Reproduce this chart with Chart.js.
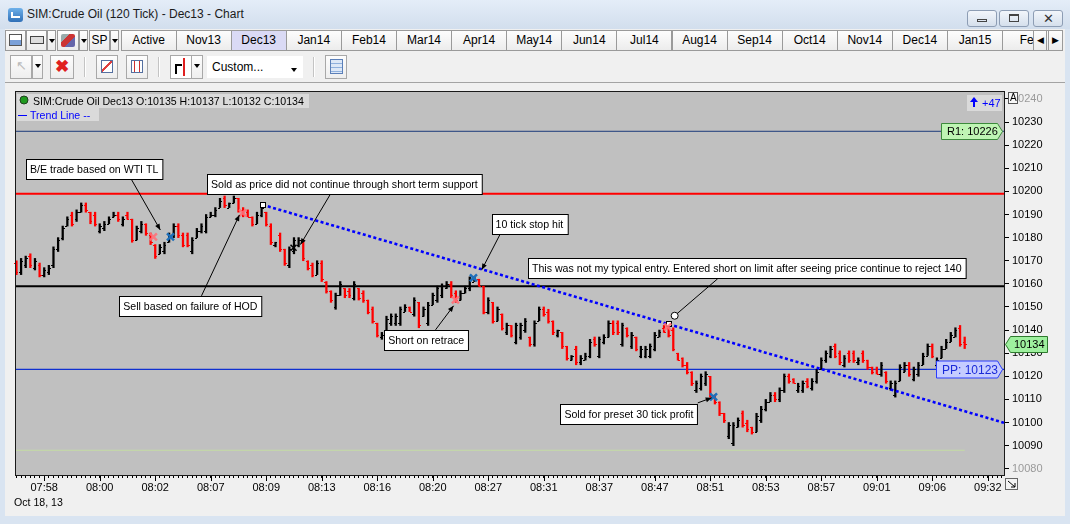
<!DOCTYPE html>
<html>
<head>
<meta charset="utf-8">
<script src="https://cdn.jsdelivr.net/npm/chart.js@4.4.0/dist/chart.umd.min.js"></script>
<style>
body{margin:0;width:1070px;height:524px;overflow:hidden;position:relative;background:#d9e4f1;font-family:"Liberation Sans",Arial,sans-serif}
.abs{position:absolute;box-sizing:border-box}
.title{left:0;top:0;width:1070px;height:29px;background:linear-gradient(#e4edf8,#d2deed)}
.ttext{left:27px;top:7px;font-size:12px;color:#1b1b1b}
.wbtn{top:10px;height:17px;border:1px solid #8d9db4;border-radius:3px;background:linear-gradient(#f2f6fb,#d5dfec)}
.bar{left:5px;top:29px;width:1060px;height:54px;background:#f0f0f0}
.btn{top:30px;height:21px;border:1px solid #9a9a9a;background:linear-gradient(#fdfdfd,#ececec);font-size:12px;line-height:19px;text-align:center;color:#000}
.dd:after{content:"";position:absolute;left:50%;top:8px;margin-left:-3px;border:3px solid transparent;border-top:4px solid #000}
.tb{top:55px;height:24px;border:1px solid #a8a8a8;background:linear-gradient(#fdfdfd,#eeeeee)}
.sep{top:57px;width:2px;height:20px;background:#c4c4c4;border-right:1px solid #fff}
.client{left:5px;top:82px;width:1060px;height:434px;background:#f0f0f0;border-top:1px solid #a3a3a3}
#wrap{left:6px;top:83px;width:1058px;height:432px}
</style>
</head>
<body>
<div class="abs title"></div>
<div class="abs" style="left:8px;top:8px;width:15px;height:14px;border-radius:3px;background:linear-gradient(#6fb1ea,#2f6fb7)"></div>
<div class="abs" style="left:11px;top:12px;width:9px;height:6px;border-left:2px solid #fff;border-bottom:2px solid #fff"></div>
<div class="abs ttext">SIM:Crude Oil (120 Tick) - Dec13 - Chart</div>
<div class="abs wbtn" style="left:967px;width:30px"><div class="abs" style="left:9px;top:8px;width:10px;height:3px;border:1px solid #444"></div></div>
<div class="abs wbtn" style="left:999px;width:30px"><div class="abs" style="left:9px;top:3px;width:10px;height:8px;border:1px solid #444;border-top-width:2px"></div></div>
<div class="abs wbtn" style="left:1033px;width:30px;text-align:center;font-size:13px;line-height:15px;color:#333">&#10005;</div>

<div class="abs bar"></div>
<div id="tabs"></div>

<div class="abs tb" style="left:10px;width:22px;color:#bbb;font-size:13px;text-align:center;line-height:20px">&#8598;</div>
<div class="abs tb dd" style="left:32px;width:11px"></div>
<div class="abs tb" style="left:50px;width:24px;color:#e02020;font-size:17px;font-weight:bold;text-align:center;line-height:21px">&#10006;</div>
<div class="abs sep" style="left:84px"></div>
<div class="abs tb" style="left:96px;width:22px"><div class="abs" style="left:4px;top:4px;width:12px;height:13px;border:1px solid #5570a0;background:linear-gradient(135deg,#fff 40%,#e04040 40%,#e04040 55%,#fff 55%)"></div></div>
<div class="abs tb" style="left:126px;width:22px"><div class="abs" style="left:4px;top:4px;width:12px;height:13px;border:1px solid #5570a0;background:repeating-linear-gradient(90deg,#fff 0 2px,#d03030 2px 3px,#fff 3px 5px)"></div></div>
<div class="abs sep" style="left:158px"></div>
<div class="abs tb" style="left:170px;width:22px;background:#fff"><div class="abs" style="left:4px;top:8px;width:7px;height:10px;border-left:2px solid #000;border-top:2px solid #000"></div><div class="abs" style="left:12px;top:2px;width:2px;height:18px;background:#e02020"></div></div>
<div class="abs tb dd" style="left:191px;width:12px"></div>
<div class="abs" style="left:207px;top:56px;width:96px;height:22px;background:#fff;font-size:12px;line-height:22px;padding-left:5px">Custom...</div>
<div class="abs dd" style="left:288px;top:60px;width:12px;height:14px"></div>
<div class="abs sep" style="left:313px"></div>
<div class="abs tb" style="left:325px;width:22px"><div class="abs" style="left:4px;top:3px;width:13px;height:15px;border:1px solid #5b7fb8;background:repeating-linear-gradient(#dde8f7 0 3px,#8fb0dd 3px 4px)"></div></div>

<div class="abs client"></div>
<div class="abs" id="wrap"><canvas id="c" width="1058" height="432" style="width:1058px;height:432px"></canvas></div>

<script>
// contract tabs across the top
var tabNames = ["Active","Nov13","Dec13","Jan14","Feb14","Mar14","Apr14","May14","Jun14","Jul14","Aug14","Sep14","Oct14","Nov14","Dec14","Jan15","Feb"];
var tabsHtml = '';
tabsHtml += '<div class="abs btn" style="left:5px;width:21px"><div class="abs" style="left:3px;top:3px;width:13px;height:12px;border:1px solid #555;background:linear-gradient(#fff 50%,#7aa0d8 50%)"></div></div>';
tabsHtml += '<div class="abs btn" style="left:26px;width:21px"><div class="abs" style="left:3px;top:5px;width:14px;height:8px;border:1px solid #444;background:#ddd"></div></div>';
tabsHtml += '<div class="abs btn dd" style="left:47px;width:9px"></div>';
tabsHtml += '<div class="abs btn" style="left:57px;width:22px"><div class="abs" style="left:3px;top:3px;width:14px;height:13px;border-radius:2px;background:linear-gradient(135deg,#9aa 30%,#c33 30%,#c33 60%,#66a 60%)"></div></div>';
tabsHtml += '<div class="abs btn dd" style="left:79px;width:9px"></div>';
tabsHtml += '<div class="abs btn" style="left:89px;width:21px">SP</div>';
tabsHtml += '<div class="abs btn dd" style="left:110px;width:9px"></div>';
tabNames.forEach(function (t, i) {
    var bg = t === "Dec13" ? "background:#dadaf5;" : "";
    tabsHtml += '<div class="abs btn" style="left:' + (120.5 + i * 55.1).toFixed(1) + 'px;width:56px;' + bg + '">' + t + '</div>';
});
tabsHtml += '<div class="abs btn" style="left:1033px;width:14px;font-size:9px">&#9664;</div>';
tabsHtml += '<div class="abs btn" style="left:1048px;width:15px;font-size:9px">&#9654;</div>';
document.getElementById("tabs").innerHTML = tabsHtml;

/* DATA */
var timeLabels = ["07:58","08:00","08:02","08:07","08:09","08:13","08:16","08:20","08:27","08:31","08:37","08:47","08:51","08:53","08:57","09:01","09:06","09:32"];
var labelFirstBar = 6, barsPerLabel = 12;
var yTicks = [10240,10230,10220,10210,10200,10190,10180,10170,10160,10150,10140,10130,10120,10110,10100,10090,10080];

var highs = [
10170,10171,10172,10173,10171,10169,10167,10168,10176,10180,
10185,10189,10191,10192,10195,10195,10191,10191,10186,10187,
10189,10191,10191,10189,10191,10188,10185,10187,10186,10182,
10177,10177,10178,10182,10186,10186,10182,10182,10180,10184,
10186,10190,10191,10193,10197,10198,10195,10198,10197,10193,
10192,10189,10191,10194,10191,10186,10178,10182,10175,10176,
10180,10180,10179,10170,10169,10170,10170,10161,10157,10156,
10161,10158,10158,10161,10158,10157,10153,10150,10143,10139,
10146,10147,10147,10150,10151,10150,10154,10152,10150,10152,
10156,10159,10160,10161,10161,10157,10157,10159,10163,10163,
10162,10159,10154,10152,10150,10147,10143,10142,10143,10143,
10145,10137,10144,10150,10150,10149,10144,10140,10139,10133,
10129,10133,10129,10130,10136,10137,10137,10138,10144,10144,
10144,10143,10141,10139,10137,10133,10133,10134,10139,10140,
10142,10142,10141,10130,10128,10126,10122,10118,10121,10122,
10120,10112,10109,10104,10100,10100,10102,10105,10101,10098,
10104,10107,10110,10113,10113,10115,10121,10121,10119,10117,
10118,10119,10119,10123,10128,10131,10133,10134,10131,10129,
10131,10131,10128,10131,10127,10124,10124,10126,10122,10118,
10118,10125,10126,10126,10124,10126,10130,10134,10134,10128,
10133,10136,10139,10141,10142,10137];
var lows = [
10164,10164,10167,10167,10166,10163,10163,10164,10167,10174,
10179,10185,10185,10187,10191,10191,10186,10185,10182,10183,
10186,10189,10187,10185,10188,10178,10179,10182,10181,10177,
10171,10173,10173,10178,10180,10180,10176,10176,10173,10180,
10182,10182,10189,10189,10193,10193,10193,10195,10191,10189,
10189,10185,10186,10189,10185,10177,10176,10174,10168,10167,
10173,10176,10170,10166,10163,10164,10161,10156,10152,10149,
10155,10154,10154,10153,10153,10152,10147,10143,10137,10136,
10138,10142,10142,10142,10148,10148,10146,10141,10146,10142,
10151,10152,10154,10158,10154,10152,10153,10156,10157,10161,
10159,10147,10147,10143,10144,10140,10138,10137,10134,10136,
10139,10133,10133,10144,10146,10143,10138,10137,10132,10127,
10127,10125,10125,10127,10128,10133,10128,10134,10137,10138,
10138,10133,10137,10132,10131,10128,10128,10128,10131,10137,
10139,10137,10131,10127,10124,10121,10116,10113,10114,10116,
10111,10108,10103,10100,10093,10090,10098,10098,10096,10095,
10096,10100,10105,10109,10109,10109,10113,10117,10117,10113,
10113,10115,10114,10117,10123,10126,10128,10128,10125,10124,
10126,10126,10125,10126,10123,10121,10121,10120,10117,10114,
10111,10118,10122,10120,10118,10120,10125,10129,10128,10124,
10128,10132,10135,10137,10133,10132];
var opens = [
10169,10165,10168,10172,10167,10168,10164,10165,10168,10175,
10180,10185,10190,10188,10191,10194,10191,10190,10183,10184,
10186,10189,10190,10186,10190,10188,10179,10183,10186,10181,
10177,10173,10174,10178,10181,10185,10181,10181,10174,10180,
10183,10183,10189,10190,10193,10197,10193,10195,10197,10192,
10191,10189,10186,10190,10191,10185,10177,10181,10175,10168,
10174,10177,10179,10170,10168,10164,10169,10161,10157,10150,
10155,10158,10157,10154,10158,10156,10153,10149,10143,10137,
10139,10143,10143,10143,10148,10150,10147,10152,10146,10143,
10151,10153,10155,10158,10160,10156,10153,10156,10158,10161,
10162,10159,10148,10152,10144,10147,10139,10142,10135,10137,
10140,10137,10134,10144,10149,10148,10144,10138,10139,10133,
10127,10132,10126,10127,10129,10136,10129,10135,10137,10143,
10143,10134,10141,10133,10137,10129,10129,10129,10132,10137,
10141,10141,10140,10130,10128,10125,10122,10114,10115,10117,
10120,10112,10109,10104,10094,10091,10098,10104,10100,10098,
10096,10101,10106,10109,10112,10110,10114,10120,10119,10114,
10114,10118,10115,10118,10123,10127,10129,10133,10130,10125,
10130,10130,10126,10130,10127,10124,10123,10121,10122,10115,
10112,10118,10122,10125,10119,10121,10125,10129,10133,10125,
10128,10132,10135,10137,10141,10135];
var closes = [
10165,10170,10171,10168,10170,10164,10166,10167,10175,10179,
10184,10188,10186,10191,10194,10192,10187,10186,10185,10186,
10188,10190,10188,10188,10188,10179,10184,10186,10182,10178,
10172,10176,10177,10181,10185,10181,10177,10177,10179,10183,
10185,10189,10190,10192,10196,10194,10195,10197,10192,10190,
10189,10186,10190,10193,10186,10178,10178,10175,10169,10175,
10179,10179,10171,10167,10164,10169,10162,10157,10153,10155,
10160,10155,10155,10160,10154,10153,10148,10144,10138,10138,
10145,10146,10146,10149,10150,10148,10153,10142,10149,10151,
10155,10158,10159,10160,10155,10153,10156,10158,10162,10162,
10159,10148,10153,10144,10149,10141,10142,10138,10142,10142,
10144,10134,10143,10149,10147,10144,10139,10140,10133,10128,
10129,10126,10128,10129,10135,10134,10136,10137,10143,10139,
10139,10142,10138,10138,10132,10132,10132,10133,10138,10139,
10139,10138,10132,10127,10125,10122,10117,10117,10120,10121,
10112,10109,10104,10101,10099,10099,10101,10099,10097,10096,
10103,10106,10109,10112,10110,10114,10120,10118,10117,10116,
10117,10116,10118,10122,10127,10130,10132,10129,10126,10128,
10127,10127,10127,10127,10124,10122,10121,10125,10118,10117,
10117,10124,10125,10121,10123,10125,10129,10133,10129,10127,
10132,10135,10138,10140,10134,10134];

// drawn price levels
var r1Level = 10226, ppLevel = 10123, hodLevel = 10199, supportLevel = 10159, s1Level = 10088;
// trend line end points: [bar, price]
var trendStart = [53.2, 10194.2], trendEnd = [213.5, 10099.9];

// trade notes: box centre, arrow start, arrow end as [bar, price]
var notes = [
    {text: "B/E trade based on WTI TL", box: [16.8, 10209.7], from: [24.9, 10205.0], to: [31.1, 10183.3], head: true},
    {text: "Sold as price did not continue through short term support", box: [70.9, 10203.2], from: [67.9, 10198.9], to: [61.4, 10177.0], head: true},
    {text: "10 tick stop hit", box: [110.9, 10185.9], from: [104.6, 10181.6], to: [100.6, 10166.1], head: true},
    {text: "This was not my typical entry. Entered short on limit after seeing price continue to reject 140", box: [157.9, 10166.7], from: [151.6, 10162.2], to: [142.3, 10146.2], head: false},
    {text: "Sell based on failure of HOD", box: [37.6, 10150.3], from: [40.0, 10154.8], to: [48.2, 10189.8], head: true},
    {text: "Short on retrace", box: [88.6, 10135.8], from: [90.6, 10140.1], to: [94.5, 10150.5], head: true},
    {text: "Sold for preset 30 tick profit", box: [132.4, 10103.6], from: [147.3, 10108.5], to: [150.3, 10110.7], head: true}
];
// executions: [bar, price, kind]
var fills = [
    [29.6, 10180.3, "entry"], [33.3, 10180.3, "exit"], [48.9, 10190.7, "entry"], [59.9, 10175.6, "stop"],
    [94.9, 10153.1, "entry"], [98.8, 10162.6, "exit"], [140.8, 10141.4, "entry"], [150.7, 10111.1, "exit"]
];
var anchors = [[53.2, 10194.2], [141.0, 10142.7]];

var barIdx = highs.map(function (h, i) { return i; });
var barColors = barIdx.map(function (i) { return closes[i] < opens[i] ? "#ff0000" : "#000000"; });
var xMin = -0.1, xMax = 213.5;

function hline(v, color, w) {
    return {type: "line", data: [{x: xMin, y: v}, {x: xMax, y: v}], borderColor: color, borderWidth: w, pointRadius: 0, order: 5};
}

var ohlcTicks = {
    id: "ohlcTicks",
    afterDatasetDraw: function (chart, args) {
        if (args.index !== 0) return;
        var ctx = chart.ctx, ys = chart.scales.y;
        ctx.save();
        ctx.lineWidth = 1;
        args.meta.data.forEach(function (el, i) {
            var x = Math.round(el.x);
            var yo = Math.round(ys.getPixelForValue(opens[i])) + 0.5;
            var yc = Math.round(ys.getPixelForValue(closes[i])) + 0.5;
            ctx.strokeStyle = barColors[i];
            ctx.beginPath();
            ctx.moveTo(x - 2, yo); ctx.lineTo(x, yo);
            ctx.moveTo(x, yc); ctx.lineTo(x + 2, yc);
            ctx.stroke();
        });
        ctx.restore();
    }
};

function pt(chart, p) {
    return [chart.scales.x.getPixelForValue(p[0]), chart.scales.y.getPixelForValue(p[1])];
}

function arrowHead(ctx, x1, y1, x2, y2) {
    var a = Math.atan2(y2 - y1, x2 - x1), L = 6, W = 2.5;
    ctx.beginPath();
    ctx.moveTo(x2, y2);
    ctx.lineTo(x2 - L * Math.cos(a) + W * Math.sin(a), y2 - L * Math.sin(a) - W * Math.cos(a));
    ctx.lineTo(x2 - L * Math.cos(a) - W * Math.sin(a), y2 - L * Math.sin(a) + W * Math.cos(a));
    ctx.closePath();
    ctx.fill();
}

function tag(ctx, x0, x1, yc, h, tipRight, fill, stroke) {
    ctx.beginPath();
    if (tipRight) {
        ctx.moveTo(x0, yc - h / 2); ctx.lineTo(x1, yc - h / 2); ctx.lineTo(x1 + 5, yc);
        ctx.lineTo(x1, yc + h / 2); ctx.lineTo(x0, yc + h / 2);
    } else {
        ctx.moveTo(x1, yc - h / 2); ctx.lineTo(x0, yc - h / 2); ctx.lineTo(x0 - 5, yc);
        ctx.lineTo(x0, yc + h / 2); ctx.lineTo(x1, yc + h / 2);
    }
    ctx.closePath();
    ctx.fillStyle = fill; ctx.fill();
    ctx.strokeStyle = stroke; ctx.lineWidth = 1; ctx.stroke();
}

var decorations = {
    id: "decorations",
    beforeDraw: function (chart) {
        var a = chart.chartArea, ctx = chart.ctx;
        ctx.save();
        ctx.fillStyle = "#c0c0c0";
        ctx.fillRect(a.left, a.top, a.right - a.left, a.bottom - a.top);
        ctx.restore();
    },
    afterDraw: function (chart) {
        var a = chart.chartArea, ctx = chart.ctx, xs = chart.scales.x, ys = chart.scales.y;
        ctx.save();
        ctx.beginPath();
        ctx.rect(a.left, a.top, a.right - a.left, a.bottom - a.top);
        ctx.clip();

        // white anchor squares on the trend line
        anchors.forEach(function (p) {
            var q = pt(chart, p);
            ctx.fillStyle = "#fff"; ctx.strokeStyle = "#000"; ctx.lineWidth = 1;
            ctx.fillRect(Math.round(q[0]) - 3, Math.round(q[1]) - 3, 6, 6);
            ctx.strokeRect(Math.round(q[0]) - 2.5, Math.round(q[1]) - 2.5, 5, 5);
        });

        // execution marks
        fills.forEach(function (f) {
            var q = pt(chart, f), s = 3.5;
            ctx.lineWidth = 2.5;
            ctx.strokeStyle = f[2] === "entry" ? "rgba(255,112,120,0.9)" : f[2] === "exit" ? "#1d6fba" : "#000";
            if (f[2] === "stop") { ctx.lineWidth = 1.5; s = 3; }
            ctx.beginPath();
            ctx.moveTo(q[0] - s, q[1] - s); ctx.lineTo(q[0] + s, q[1] + s);
            ctx.moveTo(q[0] + s, q[1] - s); ctx.lineTo(q[0] - s, q[1] + s);
            ctx.stroke();
        });

        // note arrows then boxes
        ctx.strokeStyle = "#000"; ctx.fillStyle = "#000"; ctx.lineWidth = 1;
        notes.forEach(function (n) {
            var p1 = pt(chart, n.from), p2 = pt(chart, n.to);
            ctx.beginPath(); ctx.moveTo(p1[0], p1[1]); ctx.lineTo(p2[0], p2[1]); ctx.stroke();
            if (n.head) {
                arrowHead(ctx, p1[0], p1[1], p2[0], p2[1]);
            } else {
                ctx.beginPath(); ctx.arc(p2[0], p2[1], 3.5, 0, Math.PI * 2);
                ctx.fillStyle = "#fff"; ctx.fill(); ctx.stroke(); ctx.fillStyle = "#000";
            }
        });
        ctx.font = '10.6px "Liberation Sans", Arial, sans-serif';
        ctx.textBaseline = "middle"; ctx.textAlign = "center";
        notes.forEach(function (n) {
            var c = pt(chart, n.box), w = ctx.measureText(n.text).width + 8;
            var bx = Math.round(c[0] - w / 2) + 0.5, by = Math.round(c[1] - 10) + 0.5;
            ctx.fillStyle = "#fff"; ctx.fillRect(bx, by, w, 20);
            ctx.strokeStyle = "#000"; ctx.strokeRect(bx, by, w, 20);
            ctx.fillStyle = "#000"; ctx.fillText(n.text, c[0], by + 10.5);
        });

        // header text
        ctx.textAlign = "left";
        ctx.font = '10.6px "Liberation Sans", Arial, sans-serif';
        ctx.fillStyle = "#dadada";
        ctx.fillRect(a.left + 1, a.top + 2, 292, 14);
        ctx.fillRect(a.left + 1, a.top + 16, 82, 13);
        ctx.beginPath(); ctx.arc(a.left + 8, a.top + 8, 4, 0, Math.PI * 2);
        ctx.fillStyle = "#1f9a1f"; ctx.fill(); ctx.strokeStyle = "#204020"; ctx.stroke();
        ctx.fillStyle = "#000";
        ctx.fillText("SIM:Crude Oil Dec13 O:10135 H:10137 L:10132 C:10134", a.left + 17, a.top + 10);
        ctx.strokeStyle = "#0000ff";
        ctx.beginPath(); ctx.moveTo(a.left + 2, a.top + 23.5); ctx.lineTo(a.left + 11, a.top + 23.5); ctx.stroke();
        ctx.fillStyle = "#0000ff";
        ctx.fillText("Trend Line --", a.left + 14, a.top + 24);
        ctx.fillStyle = "#dadada";
        ctx.fillRect(a.right - 37, a.top + 3, 35, 16);
        ctx.fillStyle = "#0000ff";
        ctx.beginPath();
        ctx.moveTo(a.right - 30, a.top + 5); ctx.lineTo(a.right - 26, a.top + 10); ctx.lineTo(a.right - 34, a.top + 10);
        ctx.closePath(); ctx.fill();
        ctx.fillRect(a.right - 31, a.top + 10, 2, 5);
        ctx.font = '11px "Liberation Sans", Arial, sans-serif';
        ctx.fillText("+47", a.right - 22, a.top + 12);

        // R1 and PP tags
        var yr = ys.getPixelForValue(r1Level);
        tag(ctx, a.right - 62.5, a.right - 6.5, Math.round(yr) + 0.5, 16, true, "#bff5b4", "#3c8a3c");
        ctx.fillStyle = "#000"; ctx.font = '11px "Liberation Sans", Arial, sans-serif';
        ctx.fillText("R1: 10226", a.right - 57, yr + 1);
        var yp = ys.getPixelForValue(ppLevel);
        tag(ctx, a.right - 67.5, a.right - 6.5, Math.round(yp) + 0.5, 17, true, "#c6ccff", "#2a3cff");
        ctx.fillStyle = "#1a2ad8"; ctx.font = '12px "Liberation Sans", Arial, sans-serif';
        ctx.fillText("PP: 10123", a.right - 62, yp + 1);
        ctx.restore();

        // last price tag on the axis
        ctx.save();
        var last = closes[closes.length - 1], yl = ys.getPixelForValue(last);
        tag(ctx, a.right + 6.5, a.right + 43.5, Math.round(yl) + 0.5, 16, false, "#9ef09e", "#2e7a2e");
        ctx.fillStyle = "#000"; ctx.font = '11px "Liberation Sans", Arial, sans-serif';
        ctx.textBaseline = "middle"; ctx.textAlign = "left";
        ctx.fillText(String(last), a.right + 10, yl + 1);

        // "A" box at the top of the price axis
        ctx.fillStyle = "#f8f8f8"; ctx.fillRect(a.right + 4, a.top, 9, 11);
        ctx.strokeStyle = "#555"; ctx.strokeRect(a.right + 4.5, a.top + 0.5, 9, 11);
        ctx.fillStyle = "#000"; ctx.font = '10px "Liberation Sans", Arial, sans-serif';
        ctx.fillText("A", a.right + 6, a.top + 6.5);

        // major time ticks
        ctx.strokeStyle = "#000"; ctx.lineWidth = 1;
        timeLabels.forEach(function (t, k) {
            var x = Math.round(xs.getPixelForValue(labelFirstBar + k * barsPerLabel)) + 0.5;
            ctx.beginPath(); ctx.moveTo(x, a.bottom); ctx.lineTo(x, a.bottom + 6); ctx.stroke();
        });
        ctx.fillStyle = "#000"; ctx.font = '10.6px "Liberation Sans", Arial, sans-serif';
        ctx.fillText("Oct 18, 13", 8, a.bottom + 28);

        // corner button
        ctx.fillStyle = "#f4f4f4"; ctx.fillRect(a.right + 1, a.bottom + 3, 13, 12);
        ctx.strokeStyle = "#666"; ctx.strokeRect(a.right + 1.5, a.bottom + 3.5, 12, 11);
        ctx.strokeStyle = "#000";
        ctx.beginPath(); ctx.moveTo(a.right + 4, a.bottom + 6); ctx.lineTo(a.right + 11, a.bottom + 12);
        ctx.moveTo(a.right + 11, a.bottom + 8); ctx.lineTo(a.right + 11, a.bottom + 12); ctx.lineTo(a.right + 7, a.bottom + 12);
        ctx.stroke();

        // plot frame
        ctx.strokeStyle = "#1a1a1a";
        ctx.strokeRect(a.left - 0.5, a.top - 0.5, a.right - a.left + 1, a.bottom - a.top + 1);
        ctx.restore();
    }
};

new Chart(document.getElementById("c"), {
    type: "bar",
    data: {
        datasets: [
            {
                type: "bar",
                data: barIdx.map(function (i) { return {x: i, y: [lows[i], highs[i]]}; }),
                backgroundColor: barColors,
                borderWidth: 0,
                barThickness: 1.6,
                order: 2
            },
            {
                type: "line",
                data: [{x: trendStart[0], y: trendStart[1]}, {x: trendEnd[0], y: trendEnd[1]}],
                borderColor: "#0000ff",
                borderWidth: 2.6,
                borderDash: [3, 2.5],
                borderCapStyle: "butt",
                pointRadius: 0,
                order: 1
            },
            hline(r1Level, "#1c3a7a", 1),
            hline(hodLevel, "#ff0000", 2),
            hline(supportLevel, "#000000", 2),
            hline(ppLevel, "#1030d0", 1.3),
            {type: "line", data: [{x: xMin, y: s1Level}, {x: barIdx.length - 1, y: s1Level}], borderColor: "#c4dca4", borderWidth: 1, pointRadius: 0, order: 5}
        ]
    },
    options: {
        responsive: false,
        animation: false,
        devicePixelRatio: 1,
        layout: {padding: {left: 10, top: 9, right: 0, bottom: 0}},
        plugins: {legend: {display: false}, tooltip: {enabled: false}},
        scales: {
            x: {
                type: "linear",
                position: "bottom",
                min: xMin,
                max: xMax,
                offset: false,
                border: {display: false},
                grid: {display: true, drawOnChartArea: false, offset: false, tickLength: 3, color: "#000"},
                afterBuildTicks: function (scale) {
                    scale.ticks = [];
                    for (var i = 0; i <= Math.floor(xMax); i++) scale.ticks.push({value: i});
                },
                afterFit: function (scale) {
                    scale.height = 40;
                    scale.paddingLeft = 0; scale.paddingRight = 0;
                },
                ticks: {
                    autoSkip: false,
                    maxRotation: 0,
                    padding: 3,
                    color: "#000",
                    font: {family: '"Liberation Sans", Arial, sans-serif', size: 11},
                    callback: function (v) {
                        var k = (v - labelFirstBar) / barsPerLabel;
                        return (k >= 0 && k === Math.floor(k) && timeLabels[k]) ? timeLabels[k] : "";
                    }
                }
            },
            y: {
                type: "linear",
                position: "right",
                min: 10077.3,
                max: 10243,
                beginAtZero: false,
                border: {display: false},
                grid: {drawOnChartArea: false, tickLength: 5, color: "#000"},
                afterBuildTicks: function (scale) {
                    scale.ticks = yTicks.map(function (v) { return {value: v}; });
                },
                afterFit: function (scale) {
                    scale.width = 60;
                    scale.paddingTop = 0; scale.paddingBottom = 0;
                },
                ticks: {
                    padding: 3,
                    font: {family: '"Liberation Sans", Arial, sans-serif', size: 11},
                    callback: function (v) { return String(v); },
                    color: function (c) {
                        return (c.tick.value === yTicks[0] || c.tick.value === yTicks[yTicks.length - 1]) ? "#9a9a9a" : "#000";
                    }
                }
            }
        }
    },
    plugins: [ohlcTicks, decorations]
});
</script>
</body>
</html>
